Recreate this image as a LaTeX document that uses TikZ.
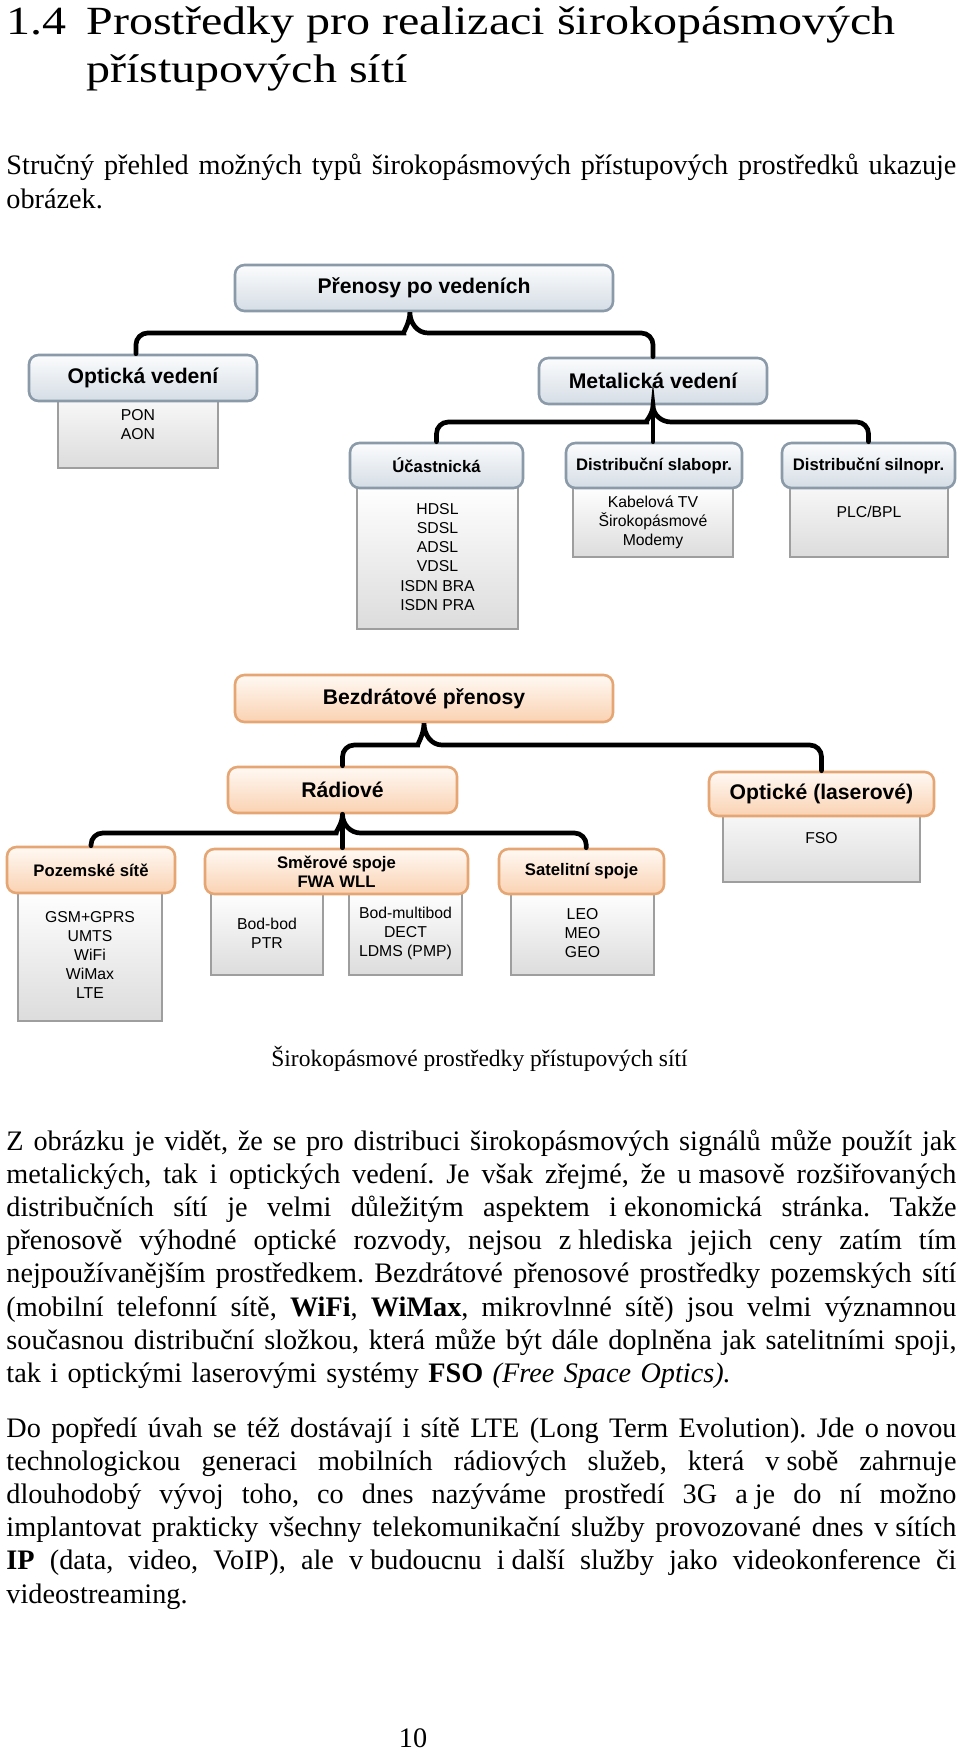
\documentclass[tikz,border=0pt]{standalone}
\usepackage{fontspec}
\setmainfont{Liberation Serif}
\newfontfamily\headfont[FakeStretch=1.2]{Liberation Serif}
\newfontfamily\diagfont{Liberation Sans}
\newcommand{\unitpx}{0.425pt}
\newcommand{\jline}[1]{\leavevmode\hbox to 403.75pt{\spaceskip=0pt\xspaceskip=0pt #1}}
\newcommand{\nbs}{\nobreak\hspace{0.25em}}
\definecolor{hdrline}{HTML}{8A9AA9}
\definecolor{hdrtop}{HTML}{FBFCFD}
\definecolor{hdrbot}{HTML}{D5DDE5}
\definecolor{orline}{HTML}{E5A674}
\definecolor{ortop}{HTML}{FFF9F4}
\definecolor{orbot}{HTML}{FAD2B2}
\definecolor{lstline}{HTML}{9E9E9E}
\definecolor{lstbot}{HTML}{DCDCDC}
\tikzset{
  wh/.style 2 args={minimum width=#1*\unitpx, minimum height=#2*\unitpx},
  hdr/.style={draw=hdrline, line width=1.1pt, rounded corners=4pt, top color=hdrtop, bottom color=hdrbot, inner sep=0pt, align=center},
  hdro/.style={hdr, draw=orline, top color=ortop, bottom color=orbot},
  hbig/.style={font=\diagfont\bfseries\fontsize{9}{10}\selectfont},
  hsmall/.style={font=\diagfont\bfseries\fontsize{7.1}{8.1}\selectfont},
  lst/.style={draw=lstline, line width=1.2pt, top color=white, bottom color=lstbot, inner sep=0pt, align=center, font=\diagfont\fontsize{6.7}{8.1}\selectfont},
  conn/.style={line width=2pt, line cap=round},
  txt/.style={anchor=base west, inner sep=0pt, font=\frenchspacing\fontsize{12}{14.11}\selectfont},
  body/.style={txt, text width=403.75pt, align=left}
}
\begin{document}
\begin{tikzpicture}[x=0.425pt, y=-0.425pt]
  \fill[white] (0,0) rectangle (960,1752);
  \useasboundingbox (0,0) rectangle (960,1752);

  \node at (6,35) [txt, font=\headfont\fontsize{17}{20}\selectfont] (secnum) {1.4};
  \node at (86,35) [txt, font=\headfont\fontsize{17}{20}\selectfont] (sectitle) {Prostředky pro realizaci širokopásmových};
  \node at (86,83) [txt, font=\headfont\fontsize{17}{20}\selectfont] (sectitle2) {přístupových sítí};

  \node at (6,175) [body] (intro) {\jline{Stručný přehled možných typů širokopásmových přístupových prostředků ukazuje}\\
    obrázek.};

  % listy
  \node at (138,424.5) [lst, wh={160}{87}] (opticka-l) {PON\\AON};
  \node at (437.5,557) [lst, wh={161}{144}] (ucastnicka-l) {HDSL\\SDSL\\ADSL\\VDSL\\ISDN BRA\\ISDN PRA};
  \node at (653,522) [lst, wh={160}{70}] (slabopr-l) {Kabelová TV\\Širokopásmové\\Modemy};
  \node at (869,512) [lst, wh={158}{90}] (silnopr-l) {PLC/BPL};
  \node at (821.5,838) [lst, wh={197}{88}] (laser-l) {FSO};
  \node at (90,955) [lst, wh={144}{132}] (pozemske-l) {GSM+GPRS\\UMTS\\WiFi\\WiMax\\LTE};
  \node at (267,933) [lst, wh={112}{84}] (bodbod-l) {Bod-bod\\PTR};
  \node at (405.5,933) [lst, wh={113}{84}] (multibod-l) {Bod-multibod\\DECT\\LDMS (PMP)};
  \node at (582.5,933) [lst, wh={143}{84}] (satelit-l) {LEO\\MEO\\GEO};

  % hlavicky
  \node at (424,288) [hdr, hbig, wh={378}{46}] (prenosy) {Přenosy po vedeních};
  \node at (143,378) [hdr, hbig, wh={228}{46}] (opticka) {Optická vedení};
  \node at (653,381) [hdr, hbig, wh={228}{46}] (metalicka) {Metalická vedení};
  \node at (436.5,465.5) [hdr, hsmall, wh={173}{45}] (ucastnicka) {Účastnická};
  \node at (654,465.5) [hdr, hsmall, wh={176}{45}] (slabopr) {Distribuční slabopr.};
  \node at (868.5,465.5) [hdr, hsmall, wh={173}{45}] (silnopr) {Distribuční silnopr.};
  \node at (424,698.5) [hdro, hbig, wh={378}{47}] (bezdrat) {Bezdrátové přenosy};
  \node at (342.5,790) [hdro, hbig, wh={229}{46}] (radiove) {Rádiové};
  \node at (821.5,794) [hdro, hbig, wh={225}{44}] (laser) {Optické (laserové)};
  \node at (91,870) [hdro, hsmall, wh={168}{46}] (pozemske) {Pozemské sítě};
  \node at (336.5,871.5) [hdro, hsmall, wh={263}{45}] (smerove) {Směrové spoje\\FWA WLL};
  \node at (581.5,871.5) [hdro, hsmall, wh={165}{45}] (satelit) {Satelitní spoje};

  % spojnice
  \coordinate (b1l) at (392,333);
  \coordinate (b1r) at (428,333);
  \draw[conn] ([xshift=-3pt]opticka.north) [rounded corners=5pt] |- (b1l) [sharp corners] to[out=0,in=-90] ([xshift=-6pt]prenosy.south) to[out=-90,in=180] (b1r) [rounded corners=5pt] -| (metalicka.north);
  \coordinate (b2l) at (635,422);
  \coordinate (b2r) at (671,422);
  \draw[conn] (ucastnicka.north) [rounded corners=5pt] |- (b2l) [sharp corners] to[out=0,in=-90] (metalicka.south) to[out=-90,in=180] (b2r) [rounded corners=5pt] -| (silnopr.north);
  \draw[conn] (metalicka.south) -- (metalicka.south |- slabopr.north);
  \coordinate (b3l) at (406,745);
  \coordinate (b3r) at (442,745);
  \draw[conn] (radiove.north) [rounded corners=5pt] |- (b3l) [sharp corners] to[out=0,in=-90] (bezdrat.south) to[out=-90,in=180] (b3r) [rounded corners=5pt] -| (laser.north);
  \coordinate (b4l) at (324.5,833);
  \coordinate (b4r) at (360.5,833);
  \draw[conn] (pozemske.north) [rounded corners=5pt] |- (b4l) [sharp corners] to[out=0,in=-90] (radiove.south) to[out=-90,in=180] (b4r) [rounded corners=5pt] -| ([xshift=2pt]satelit.north);
  \draw[conn] (radiove.south) -- (radiove.south |- smerove.north);

  \node at (479.5,1066) [anchor=base, inner sep=0pt, font=\fontsize{10}{12}\selectfont] (caption) {Širokopásmové prostředky přístupových sítí};

  \node at (6,1150) [body] (para1) {\jline{Z obrázku je vidět, že se pro distribuci širokopásmových signálů může použít jak}\\
    \jline{metalických, tak i optických vedení. Je však zřejmé, že u\nbs masově rozšiřovaných}\\
    \jline{distribučních sítí je velmi důležitým aspektem i\nbs ekonomická stránka. Takže}\\
    \jline{přenosově výhodné optické rozvody, nejsou z\nbs hlediska jejich ceny zatím tím}\\
    \jline{nejpoužívanějším prostředkem. Bezdrátové přenosové prostředky pozemských sítí}\\
    \jline{(mobilní telefonní sítě, \textbf{WiFi}, \textbf{WiMax}, mikrovlnné sítě) jsou velmi významnou}\\
    \jline{současnou distribuční složkou, která může být dále doplněna jak satelitními spoji,}\\
    tak i optickými laserovými systémy \textbf{FSO} \textit{(Free Space Optics).}};

  \node at (6,1437) [body] (para2) {\jline{Do popředí úvah se též dostávají i sítě LTE (Long Term Evolution). Jde o\nbs novou}\\
    \jline{technologickou generaci mobilních rádiových služeb, která v\nbs sobě zahrnuje}\\
    \jline{dlouhodobý vývoj toho, co dnes nazýváme prostředí 3G a\nbs je do ní možno}\\
    \jline{implantovat prakticky všechny telekomunikační služby provozované dnes v\nbs sítích}\\
    \jline{\textbf{IP} (data, video, VoIP), ale v\nbs budoucnu i\nbs další služby jako videokonference či}\\
    videostreaming.};

  \node at (413,1747) [anchor=base, inner sep=0pt, font=\fontsize{12}{14}\selectfont] (pagenum) {10};
\end{tikzpicture}
\end{document}
